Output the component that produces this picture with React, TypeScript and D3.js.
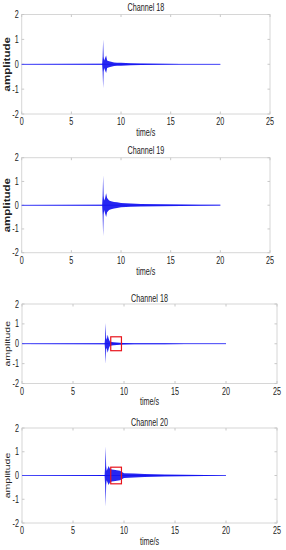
import React from "react";
import * as d3 from "d3";

// chart data
const titles = ["Channel 18", "Channel 19", "Channel 18", "Channel 20"];
const xTicks = [0, 5, 10, 15, 20, 25];
const yTicks = [-2, -1, 0, 1, 2];
const xDomain = [0, 25];
const yDomain = [-2, 2];

// envelope of each trace (time in s, peak amplitude above / below zero)
const envTimes = [0, 8.1, 8.15, 8.2, 8.25, 8.3, 8.4, 8.5, 8.6, 8.8, 9.0, 9.3, 9.6, 10, 11, 12, 14, 16, 18, 20];
const upper18a = [0.01, 0.02, 0.3, 1.0, 0.3, 0.15, 0.25, 0.35, 0.15, 0.12, 0.1, 0.07, 0.06, 0.06, 0.04, 0.03, 0.02, 0.015, 0.015, 0.015];
const lower18a = [-0.01, -0.02, -0.3, -0.95, -0.3, -0.15, -0.25, -0.35, -0.15, -0.12, -0.1, -0.07, -0.06, -0.06, -0.04, -0.03, -0.02, -0.015, -0.015, -0.015];
const upper19 = [0.01, 0.02, 0.4, 1.25, 0.4, 0.2, 0.3, 0.5, 0.3, 0.2, 0.17, 0.14, 0.12, 0.09, 0.07, 0.05, 0.04, 0.03, 0.02, 0.015];
const lower19 = [-0.01, -0.02, -0.4, -1.3, -0.4, -0.2, -0.35, -0.5, -0.3, -0.2, -0.17, -0.14, -0.12, -0.09, -0.07, -0.05, -0.04, -0.03, -0.02, -0.015];
const upper18b = [0.01, 0.02, 0.3, 1.05, 0.3, 0.2, 0.45, 0.25, 0.12, 0.09, 0.07, 0.06, 0.05, 0.04, 0.03, 0.025, 0.02, 0.015, 0.015, 0.015];
const lower18b = [-0.01, -0.02, -0.3, -1.0, -0.3, -0.2, -0.45, -0.25, -0.12, -0.09, -0.07, -0.06, -0.05, -0.04, -0.03, -0.025, -0.02, -0.015, -0.015, -0.015];
const upper20 = [0.01, 0.02, 0.4, 1.22, 0.4, 0.2, 0.3, 0.4, 0.3, 0.25, 0.24, 0.22, 0.2, 0.1, 0.08, 0.06, 0.04, 0.03, 0.02, 0.015];
const lower20 = [-0.01, -0.02, -0.4, -1.3, -0.4, -0.2, -0.3, -0.4, -0.3, -0.25, -0.24, -0.22, -0.2, -0.1, -0.08, -0.06, -0.04, -0.03, -0.02, -0.015];

// red highlight window (time, amplitude)
const boxTime = [8.7, 9.75];
const boxAmp = [-0.35, 0.35];

const traces = [
  { upper: upper18a, lower: lower18a, box: false },
  { upper: upper19, lower: lower19, box: false },
  { upper: upper18b, lower: lower18b, box: true },
  { upper: upper20, lower: lower20, box: true },
];

// panel geometry
const panels = [
  { left: 21.7, right: 270, top: 14.5, bottom: 114, titleY: 10.5, labelY: 135.5, boldY: true },
  { left: 21.7, right: 270, top: 157.7, bottom: 252.7, titleY: 153.5, labelY: 275, boldY: true },
  { left: 22, right: 277, top: 304, bottom: 383.5, titleY: 301.5, labelY: 404.5, boldY: false },
  { left: 22, right: 277, top: 428, bottom: 523, titleY: 425.5, labelY: 545, boldY: false },
];

const SQ = 0.72; // text in the reference is squeezed horizontally
const font = "'Liberation Sans', Arial, sans-serif";

function Label({ x, y, anchor = "middle", size = 10, children }: any) {
  return (
    <text
      transform={`translate(${x},${y}) scale(${SQ},1)`}
      textAnchor={anchor}
      fontSize={size}
      fontFamily={font}
      fill="#222"
    >
      {children}
    </text>
  );
}

function Panel({ i }: { i: number }) {
  const p = panels[i];
  const tr = traces[i];
  const x = d3.scaleLinear().domain(xDomain).range([p.left, p.right]);
  const y = d3.scaleLinear().domain(yDomain).range([p.bottom, p.top]);

  const pts = envTimes.map((t, k) => ({ t, hi: tr.upper[k], lo: tr.lower[k] }));
  const area = d3
    .area<any>()
    .x((d) => x(d.t))
    .y0((d) => y(d.lo))
    .y1((d) => y(d.hi));
  const line = d3
    .line<number>()
    .x((t) => x(t))
    .y(() => y(0));

  const midY = (p.top + p.bottom) / 2;
  const tick = 2.5;

  return (
    <g>
      {/* frame */}
      <rect
        x={p.left}
        y={p.top}
        width={p.right - p.left}
        height={p.bottom - p.top}
        fill="white"
        stroke="#d6d6d6"
        strokeWidth={1}
      />
      {xTicks.map((t) => (
        <g key={"x" + t}>
          <line x1={x(t)} x2={x(t)} y1={p.bottom} y2={p.bottom - tick} stroke="#c8c8c8" />
          <line x1={x(t)} x2={x(t)} y1={p.top} y2={p.top + tick} stroke="#c8c8c8" />
          <Label x={x(t)} y={p.bottom + 11}>{t}</Label>
        </g>
      ))}
      {yTicks.map((t) => (
        <g key={"y" + t}>
          <line x1={p.left} x2={p.left + tick} y1={y(t)} y2={y(t)} stroke="#c8c8c8" />
          <line x1={p.right} x2={p.right - tick} y1={y(t)} y2={y(t)} stroke="#c8c8c8" />
          <Label x={p.left - 3} y={y(t) + 3.5} anchor="end">{t}</Label>
        </g>
      ))}

      {/* trace */}
      <path d={line([envTimes[0], envTimes[envTimes.length - 1]]) || ""} stroke="#7a7aff" strokeWidth={0.9} fill="none" />
      <path d={area(pts) || ""} fill="#0000ee" opacity={0.85} />

      {tr.box && (
        <rect
          x={x(boxTime[0])}
          y={y(boxAmp[1])}
          width={x(boxTime[1]) - x(boxTime[0])}
          height={y(boxAmp[0]) - y(boxAmp[1])}
          fill="none"
          stroke="#e8141c"
          strokeWidth={1.2}
        />
      )}

      <Label x={(p.left + p.right) / 2} y={p.titleY}>{titles[i]}</Label>
      <Label x={(p.left + p.right) / 2} y={p.labelY}>time/s</Label>
      <text
        transform={`translate(10,${midY}) rotate(-90) scale(1,${SQ})`}
        textAnchor="middle"
        fontSize={p.boldY ? 11.5 : 10.5}
        fontWeight={p.boldY ? "bold" : "normal"}
        fontFamily={font}
        fill="#222"
      >
        amplitude
      </text>
    </g>
  );
}

export default function App() {
  return (
    <svg
      width={286}
      height={550}
      style={{ position: "absolute", left: 0, top: 0, background: "white" }}
    >
      <rect width={286} height={550} fill="white" />
      {panels.map((_, i) => (
        <Panel key={i} i={i} />
      ))}
    </svg>
  );
}
